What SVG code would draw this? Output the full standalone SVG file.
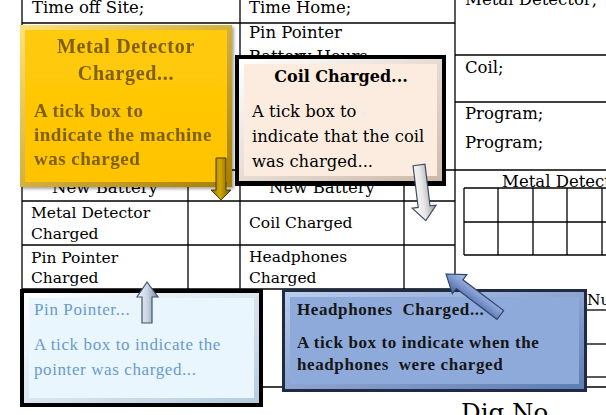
<svg xmlns="http://www.w3.org/2000/svg" width="606" height="415" viewBox="0 0 606 415">
<defs>
<style>
.ln{stroke:#000;stroke-width:1.3;fill:none}
.t1{font-family:"DejaVu Serif",serif;font-size:16.5px;fill:#000}
.t2{font-family:"DejaVu Serif",serif;font-size:15.5px;fill:#000}
.ymt{font-family:"Liberation Serif",serif;font-weight:bold;font-size:20px;letter-spacing:.7px;fill:#7F6000;text-anchor:middle}
.ymb{font-family:"Liberation Serif",serif;font-weight:bold;font-size:19px;letter-spacing:.5px;fill:#7F6000}
.ct{font-family:"DejaVu Serif",serif;font-weight:bold;font-size:16px;fill:#000;text-anchor:middle}
.cb{font-family:"DejaVu Serif",serif;font-size:16.4px;fill:#000}
.pt{font-family:"Liberation Serif",serif;font-size:17px;letter-spacing:.6px;fill:#6A9AD0}
.hb{font-family:"Liberation Serif",serif;font-weight:bold;font-size:17px;letter-spacing:.6px;fill:#161616}
</style>
<linearGradient id="yBev" x1="0" y1="0" x2="1" y2="1"><stop offset="0" stop-color="#FFE27A"/><stop offset="1" stop-color="#A87E00"/></linearGradient>
<linearGradient id="yIn" x1="0" y1="0" x2="0" y2="1"><stop offset="0" stop-color="#FFCB0A"/><stop offset="1" stop-color="#FFC300"/></linearGradient>
<linearGradient id="cBev" x1="0" y1="0" x2="1" y2="1"><stop offset="0" stop-color="#FFFFFF"/><stop offset="1" stop-color="#CDB9A8"/></linearGradient>
<linearGradient id="pBev" x1="0" y1="0" x2="1" y2="1"><stop offset="0" stop-color="#FFFFFF"/><stop offset="1" stop-color="#B5CCDD"/></linearGradient>
<linearGradient id="hBev" x1="0" y1="0" x2="1" y2="1"><stop offset="0" stop-color="#BCCDEC"/><stop offset="1" stop-color="#5E7CB3"/></linearGradient>
<linearGradient id="aY" x1="0" y1="0" x2="1" y2="0"><stop offset="0" stop-color="#8A6A00"/><stop offset=".45" stop-color="#D4A800"/><stop offset="1" stop-color="#6E5400"/></linearGradient>
<linearGradient id="aG" x1="0" y1="0" x2="1" y2="0"><stop offset="0" stop-color="#FFFFFF"/><stop offset=".5" stop-color="#E8E8E8"/><stop offset="1" stop-color="#9C9C9C"/></linearGradient>
<linearGradient id="aP" x1="0" y1="0" x2="1" y2="0"><stop offset="0" stop-color="#F2F6FB"/><stop offset=".5" stop-color="#C9D3E2"/><stop offset="1" stop-color="#7D8CA6"/></linearGradient>
<linearGradient id="aH" x1="0" y1="0" x2="0" y2="1"><stop offset="0" stop-color="#B3C6E8"/><stop offset=".5" stop-color="#7B97CC"/><stop offset="1" stop-color="#46619A"/></linearGradient>
<filter id="sh" x="-10%" y="-10%" width="125%" height="125%"><feDropShadow dx="2" dy="2" stdDeviation="1.5" flood-color="#000" flood-opacity=".35"/></filter>
</defs>
<rect width="606" height="415" fill="#fff"/>

<g id="table">
<line class="ln" x1="22" y1="23" x2="455" y2="23"/>
<line class="ln" x1="22" y1="170" x2="606" y2="170"/>
<line class="ln" x1="22" y1="201" x2="455" y2="201"/>
<line class="ln" x1="22" y1="245" x2="455" y2="245"/>
<line class="ln" x1="22" y1="289" x2="455" y2="289"/>
<line class="ln" x1="22" y1="387" x2="606" y2="387"/>
<line class="ln" x1="455" y1="55" x2="606" y2="55"/>
<line class="ln" x1="455" y1="102" x2="606" y2="102"/>
<line class="ln" x1="22" y1="0" x2="22" y2="289"/>
<line class="ln" x1="240" y1="0" x2="240" y2="289"/>
<line class="ln" x1="455" y1="0" x2="455" y2="289"/>
<line class="ln" x1="188" y1="170" x2="188" y2="289"/>
<line class="ln" x1="404" y1="170" x2="404" y2="289"/>
<line class="ln" x1="464" y1="188" x2="606" y2="188"/>
<line class="ln" x1="464" y1="222" x2="606" y2="222"/>
<line class="ln" x1="464" y1="255" x2="606" y2="255"/>
<line class="ln" x1="464" y1="188" x2="464" y2="255"/>
<line class="ln" x1="498" y1="188" x2="498" y2="255"/>
<line class="ln" x1="533" y1="188" x2="533" y2="255"/>
<line class="ln" x1="567" y1="188" x2="567" y2="255"/>
<line class="ln" x1="602" y1="188" x2="602" y2="255"/>
<line class="ln" x1="585" y1="310" x2="606" y2="310"/>
<line class="ln" x1="585" y1="344" x2="606" y2="344"/>
<line class="ln" x1="585" y1="377" x2="606" y2="377"/>
<text class="t1" x="32" y="13">Time off Site;</text>
<text class="t1" x="249" y="13">Time Home;</text>
<text class="t1" x="249" y="38">Pin Pointer</text>
<text class="t1" x="249" y="62">Battery Hours;</text>
<text class="t1" x="465" y="5">Metal Detector;</text>
<text class="t1" x="465" y="73">Coil;</text>
<text class="t1" x="465" y="119">Program;</text>
<text class="t1" x="465" y="148">Program;</text>
<text class="t1" x="105" y="193" text-anchor="middle">New Battery</text>
<text class="t1" x="322" y="193" text-anchor="middle">New Battery</text>
<text class="t1" x="502" y="187">Metal Detect</text>
<text class="t2" x="31" y="218">Metal Detector</text>
<text class="t2" x="31" y="239">Charged</text>
<text class="t2" x="249" y="228">Coil Charged</text>
<text class="t2" x="31" y="263">Pin Pointer</text>
<text class="t2" x="31" y="283">Charged</text>
<text class="t2" x="249" y="262">Headphones</text>
<text class="t2" x="249" y="283">Charged</text>
<text class="t2" x="587" y="305">Nu</text>
<text class="t1" x="461" y="421" style="font-size:24.5px">Dig No</text>
</g>

<g id="node-metal-detector" filter="url(#sh)">
<rect x="20" y="25" width="212" height="162" fill="url(#yBev)"/>
<rect x="25" y="30" width="202" height="152" fill="url(#yIn)"/>
<text class="ymt" x="126" y="53">Metal Detector</text>
<text class="ymt" x="126" y="80">Charged...</text>
<text class="ymb" x="34" y="117">A tick box to</text>
<text class="ymb" x="34" y="141">indicate the machine</text>
<text class="ymb" x="34" y="165">was charged</text>
</g>

<g id="node-coil">
<rect x="235" y="55" width="211" height="131" fill="#000"/>
<rect x="239" y="59" width="203" height="122" fill="url(#cBev)"/>
<rect x="244" y="64" width="193" height="112" fill="#FCECDF"/>
<text class="ct" x="341" y="82">Coil Charged...</text>
<text class="cb" x="252" y="117">A tick box to</text>
<text class="cb" x="252" y="142">indicate that the coil</text>
<text class="cb" x="252" y="167">was charged...</text>
</g>

<g id="node-pin-pointer">
<rect x="20" y="289" width="243" height="118" fill="#000"/>
<rect x="24" y="293" width="235" height="110" fill="url(#pBev)"/>
<rect x="29" y="298" width="225" height="100" fill="#E9F6FD"/>
<text class="pt" x="34" y="315">Pin Pointer...</text>
<text class="pt" x="34" y="350">A tick box to indicate the</text>
<text class="pt" x="34" y="375">pointer was charged...</text>
</g>

<g id="node-headphones">
<rect x="282" y="289" width="305" height="103" fill="#1F2A44"/>
<rect x="285" y="292" width="299" height="97" fill="url(#hBev)"/>
<rect x="290" y="297" width="289" height="87" fill="#8EAADB"/>
<text class="hb" x="297" y="315" xml:space="preserve">Headphones  Charged...</text>
<text class="hb" x="297" y="348">A tick box to indicate when the</text>
<text class="hb" x="297" y="370" xml:space="preserve">headphones  were charged</text>
</g>

<g id="connectors" stroke-linejoin="miter">
<polygon points="216,158 226,158 226,190 231,190 221,200 211,190 216,190" fill="url(#aY)" stroke="#4A3A00" stroke-width="1"/>
<polygon transform="translate(419,165) rotate(-7)" points="-6,0 6,0 6,42 12,42 0,56 -12,42 -6,42" fill="url(#aG)" stroke="#3B4A66" stroke-width="1.2"/>
<polygon points="147,282 158,297 152,297 152,323 142,323 142,297 137,297" fill="url(#aP)" stroke="#44546A" stroke-width="1.2"/>
<polygon transform="translate(446,274) rotate(37)" points="0,0 17,-12 17,-5.5 68,-5.5 68,5.5 17,5.5 17,12" fill="url(#aH)" stroke="#2F446E" stroke-width="1.2"/>
</g>
</svg>
